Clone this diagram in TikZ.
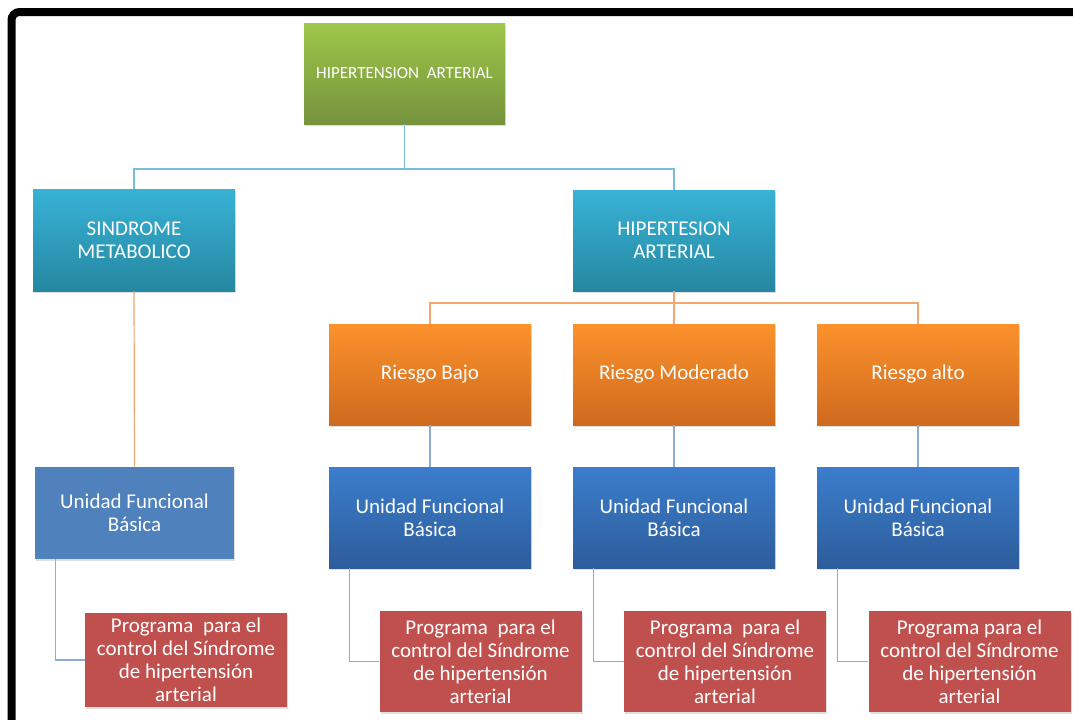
\documentclass[tikz,border=0pt]{standalone}
\usepackage{fontspec}
\setmainfont{Carlito}
\usetikzlibrary{shadows}

\definecolor{greentop}{RGB}{158,199,74}
\definecolor{greenbot}{RGB}{118,147,60}
\definecolor{tealtop}{RGB}{56,178,214}
\definecolor{tealbot}{RGB}{37,135,161}
\definecolor{orangetop}{RGB}{252,146,44}
\definecolor{orangebot}{RGB}{207,106,30}
\definecolor{bluetop}{RGB}{59,125,204}
\definecolor{bluebot}{RGB}{45,93,155}
\definecolor{flatblue}{RGB}{79,129,189}
\definecolor{flatred}{RGB}{192,80,77}
\definecolor{linkteal}{RGB}{120,192,214}
\definecolor{linkorange}{RGB}{245,166,110}
\definecolor{linkblue}{RGB}{140,172,214}

\tikzset{
  box size/.style 2 args={minimum width=#1*0.75pt, minimum height=#2*0.75pt},
  base box/.style={rectangle, inner sep=0pt, text=white, align=center,
    font=\fontsize{15.75}{17.25}\selectfont, box size={202}{101},
    drop shadow={shadow xshift=1pt, shadow yshift=-1.5pt, opacity=0.25}},
  green box/.style={base box, top color=greentop, bottom color=greenbot,
    font=\fontsize{12.75}{15}\selectfont},
  teal box/.style={base box, top color=tealtop, bottom color=tealbot},
  orange box/.style={base box, top color=orangetop, bottom color=orangebot},
  blue box/.style={base box, top color=bluetop, bottom color=bluebot},
  flat blue box/.style={base box, fill=flatblue},
  red box/.style={base box, fill=flatred},
  teal link/.style={draw=linkteal, line width=0.9pt},
  orange link/.style={draw=linkorange, line width=0.9pt},
  blue link/.style={draw=linkblue, line width=0.9pt},
  frame line/.style={draw=black, line width=6pt, rounded corners=6pt}
}

\begin{document}
\begin{tikzpicture}[x=0.75pt,y=-0.75pt]
  %% page and frame
  \useasboundingbox (0,0) rectangle (1073,719);
  \clip (0,0) rectangle (1073,719);
  \draw[frame line] (11.5,760) -- (11.5,12) -- (1100,12);

  %% levels of the connectors
  \coordinate (busTop) at (0,169);
  \coordinate (busRisk) at (0,303);

  %% boxes
  \node[green box, box size={201}{101}] (hta) at (404.5,73.5) {HIPERTENSION~ ARTERIAL};
  \node[teal box, box size={202}{102}] (sindrome) at (134,240) {SINDROME\\METABOLICO};
  \node[teal box] (hipertension) at (674,240.5) {HIPERTESION\\ARTERIAL};

  \node[orange box] (bajo) at (430,374.5) {Riesgo Bajo};
  \node[orange box] (moderado) at (674,374.5) {Riesgo Moderado};
  \node[orange box] (alto) at (918,374.5) {Riesgo alto};

  \node[flat blue box, box size={199}{92}] (ufbA) at (134.5,513) {Unidad Funcional\\Básica};
  \node[blue box] (ufbB) at (430,517.5) {Unidad Funcional\\Básica};
  \node[blue box] (ufbC) at (674,517.5) {Unidad Funcional\\Básica};
  \node[blue box] (ufbD) at (918,517.5) {Unidad Funcional\\Básica};

  \node[red box, box size={202}{94}] (progA) at (186,660)
    {Programa~ para el\\control del Síndrome\\de hipertensión\\arterial};
  \node[red box] (progB) at (480.5,661.5)
    {Programa~ para el\\control del Síndrome\\de hipertensión\\arterial};
  \node[red box] (progC) at (725,661.5)
    {Programa~ para el\\control del Síndrome\\de hipertensión\\arterial};
  \node[red box] (progD) at (969.5,661.5)
    {Programa para el\\control del Síndrome\\de hipertensión\\arterial};

  %% connectors
  \draw[teal link] (hta.south) -- (hta.south |- busTop) -| (sindrome.north);
  \draw[teal link] (hta.south |- busTop) -| (hipertension.north);
  \draw[orange link] (hipertension.south) -- (hipertension.south |- busRisk) -| (bajo.north);
  \draw[orange link] (hipertension.south |- busRisk) -| (alto.north);
  \draw[orange link] (hipertension.south |- busRisk) -- (moderado.north);
  \draw[orange link] (sindrome.south) -- (ufbA.north);

  \draw[blue link] (bajo.south) -- (ufbB.north);
  \draw[blue link] (moderado.south) -- (ufbC.north);
  \draw[blue link] (alto.south) -- (ufbD.north);

  \draw[blue link] ([xshift=21*0.75pt]ufbA.south west) |- (progA.west);
  \draw[blue link] ([xshift=21*0.75pt]ufbB.south west) |- (progB.west);
  \draw[blue link] ([xshift=21*0.75pt]ufbC.south west) |- (progC.west);
  \draw[blue link] ([xshift=21*0.75pt]ufbD.south west) |- (progD.west);
\end{tikzpicture}
\end{document}
